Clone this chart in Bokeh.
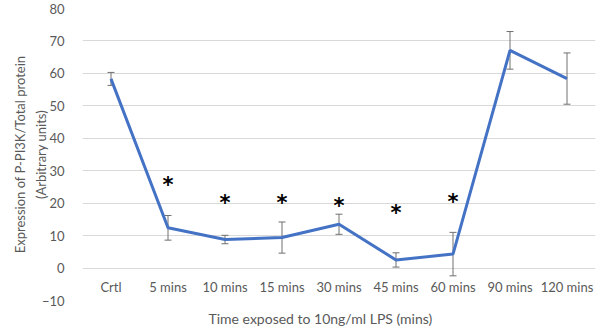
from bokeh.plotting import figure
from bokeh.models import ColumnDataSource, Whisker, TeeHead, CategoricalAxis, FixedTicker, Title
from bokeh.embed import file_html
from bokeh.resources import INLINE
from bokeh.core.properties import value

# Time points after LPS exposure
categories = ["Crtl", "5 mins", "10 mins", "15 mins", "30 mins",
              "45 mins", "60 mins", "90 mins", "120 mins"]
# Mean P-PI3K / total protein and its error (+/-)
means = [58.3, 12.4, 8.8, 9.4, 13.5, 2.5, 4.3, 67.1, 58.4]
errors = [2.0, 3.8, 1.3, 4.8, 3.1, 2.2, 6.7, 5.8, 7.9]
# Significance markers
star_categories = ["5 mins", "10 mins", "15 mins", "30 mins", "45 mins", "60 mins"]
star_levels = [27.0, 21.5, 21.5, 20.7, 18.5, 21.9]
y_ticks = [-10, 0, 10, 20, 30, 40, 50, 60, 70, 80]

FONT = "Lato"
GREY = "#595959"

src = ColumnDataSource(data=dict(
    x=categories,
    y=means,
    upper=[m + e for m, e in zip(means, errors)],
    lower=[m - e for m, e in zip(means, errors)],
))
stars = ColumnDataSource(data=dict(x=star_categories, y=star_levels,
                                   t=["*"] * len(star_categories)))

p = figure(width=605, height=335, x_range=categories, y_range=(-10, 80),
           output_backend="svg", toolbar_location=None,
           x_axis_location=None,
           min_border_left=82, min_border_right=10,
           min_border_top=8, min_border_bottom=35)
p.outline_line_color = None
p.background_fill_color = "white"
p.border_fill_color = "white"

# Category labels sit along the zero line
xaxis = CategoricalAxis(fixed_location=0)
xaxis.axis_line_color = None
xaxis.major_tick_line_color = None
xaxis.minor_tick_line_color = None
xaxis.major_label_standoff = 5
xaxis.major_label_text_font = FONT
xaxis.major_label_text_font_size = "13px"
xaxis.major_label_text_color = GREY
p.add_layout(xaxis, "below")

yaxis = p.yaxis[0]
yaxis.ticker = FixedTicker(ticks=y_ticks)
yaxis.axis_line_color = None
yaxis.major_tick_line_color = None
yaxis.minor_tick_line_color = None
yaxis.major_label_text_font = FONT
yaxis.major_label_text_font_size = "13px"
yaxis.major_label_text_color = GREY
yaxis.major_label_standoff = 12
yaxis.axis_label = "Expression of P-PI3K/Total protein\n(Arbitrary units)"
yaxis.axis_label_text_font = FONT
yaxis.axis_label_text_font_size = "13px"
yaxis.axis_label_text_font_style = "normal"
yaxis.axis_label_text_color = GREY
yaxis.axis_label_text_line_height = 1.33
yaxis.axis_label_standoff = -10

p.xgrid.grid_line_color = None
p.ygrid.ticker = FixedTicker(ticks=y_ticks)
p.ygrid.grid_line_color = "#d9d9d9"
p.ygrid.grid_line_width = 1

p.add_layout(Title(text="Time exposed to 10ng/ml LPS (mins)", align="left",
                   offset=126, standoff=15, text_font=FONT, text_font_size="14px",
                   text_font_style="normal", text_color=GREY), "below")

p.line("x", "y", source=src, line_color="#4472C4", line_width=3)

p.add_layout(Whisker(source=src, base="x", upper="upper", lower="lower",
                     line_color="#707070", line_width=1,
                     upper_head=TeeHead(size=7, line_color="#707070", line_width=1),
                     lower_head=TeeHead(size=7, line_color="#707070", line_width=1)))

p.text("x", "y", text="t", source=stars, text_font=value("DejaVu Sans"),
       text_font_size="21px", text_font_style="bold", text_color="black",
       text_align="center", text_baseline="middle", y_offset=5)

open("out.html", "w").write(file_html(p, INLINE))
